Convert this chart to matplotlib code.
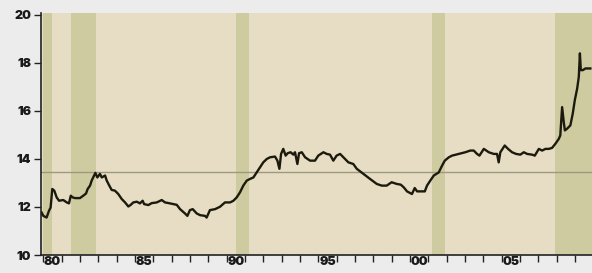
import matplotlib.pyplot as plt
from matplotlib.ticker import FixedLocator, NullFormatter

# data (decimal year, value)
years = [
    1979.91, 1980.00, 1980.18, 1980.31, 1980.40, 1980.49, 1980.60, 1980.73, 1980.86,
    1981.09, 1981.28, 1981.40, 1981.50, 1981.60, 1981.73, 1982.00, 1982.18, 1982.33,
    1982.42, 1982.55, 1982.64, 1982.77, 1982.84, 1982.95, 1983.09, 1983.19, 1983.37,
    1983.46, 1983.58, 1983.73, 1983.91, 1984.09, 1984.28, 1984.46, 1984.64, 1984.77,
    1984.91, 1985.10, 1985.27, 1985.42, 1985.50, 1985.73, 1985.91, 1986.19, 1986.46,
    1986.64, 1986.91, 1987.28, 1987.46, 1987.73, 1987.86, 1988.00, 1988.15, 1988.37,
    1988.55, 1988.82, 1988.91, 1989.09, 1989.37, 1989.64, 1989.91, 1990.19, 1990.37,
    1990.55, 1990.73, 1990.91, 1991.10, 1991.28, 1991.46, 1991.64, 1991.82, 1992.00,
    1992.19, 1992.37, 1992.64, 1992.77, 1992.88, 1992.97, 1993.09, 1993.22, 1993.33,
    1993.49, 1993.64, 1993.73, 1993.86, 1993.95, 1994.10, 1994.28, 1994.55, 1994.82,
    1995.00, 1995.28, 1995.46, 1995.64, 1995.82, 1996.00, 1996.19, 1996.37, 1996.64,
    1996.91, 1997.10, 1997.46, 1997.82, 1998.19, 1998.46, 1998.73, 1999.00, 1999.28,
    1999.50, 1999.66, 1999.84, 2000.11, 2000.26, 2000.39, 2000.57, 2000.81, 2000.93,
    2001.11, 2001.30, 2001.57, 2001.75, 2001.90, 2002.12, 2002.30, 2002.66, 2003.02,
    2003.29, 2003.48, 2003.66, 2003.79, 2004.03, 2004.30, 2004.57, 2004.75, 2004.84,
    2004.93, 2005.17, 2005.35, 2005.57, 2005.79, 2006.02, 2006.21, 2006.39, 2006.66,
    2006.81, 2007.03, 2007.21, 2007.39, 2007.57, 2007.75, 2007.93, 2008.12, 2008.20,
    2008.30, 2008.39, 2008.45, 2008.57, 2008.75, 2008.88, 2008.99, 2009.12, 2009.21,
    2009.27, 2009.32, 2009.43, 2009.57, 2009.84,
]
values = [
    11.77, 11.63, 11.56, 11.84, 11.98, 12.75, 12.68, 12.40, 12.26,
    12.29, 12.19, 12.15, 12.47, 12.40, 12.37, 12.37, 12.47, 12.56,
    12.75, 12.89, 13.10, 13.31, 13.42, 13.23, 13.38, 13.23, 13.31,
    13.10, 12.92, 12.71, 12.68, 12.54, 12.33, 12.19, 12.02, 12.09,
    12.19, 12.22, 12.15, 12.26, 12.12, 12.08, 12.16, 12.19, 12.29,
    12.19, 12.15, 12.09, 11.91, 11.73, 11.63, 11.87, 11.91, 11.73,
    11.66, 11.63, 11.56, 11.87, 11.91, 12.01, 12.19, 12.19, 12.26,
    12.40, 12.61, 12.89, 13.10, 13.17, 13.23, 13.44, 13.65, 13.86,
    14.00, 14.07, 14.10, 13.93, 13.59, 14.21, 14.42, 14.14, 14.24,
    14.28, 14.18, 14.28, 13.79, 14.24, 14.28, 14.07, 13.93, 13.93,
    14.14, 14.28, 14.21, 14.18, 13.93, 14.14, 14.21, 14.07, 13.86,
    13.79, 13.59, 13.38, 13.17, 12.96, 12.89, 12.89, 13.03, 12.96,
    12.93, 12.82, 12.65, 12.54, 12.79, 12.65, 12.65, 12.65, 12.89,
    13.10, 13.31, 13.44, 13.72, 13.93, 14.07, 14.14, 14.21, 14.28,
    14.35, 14.35, 14.21, 14.14, 14.42, 14.28, 14.21, 14.21, 13.86,
    14.28, 14.56, 14.42, 14.28, 14.21, 14.18, 14.28, 14.21, 14.18,
    14.14, 14.42, 14.35, 14.42, 14.42, 14.46, 14.63, 14.84, 14.98,
    16.16, 15.54, 15.19, 15.26, 15.40, 15.89, 16.44, 16.93, 17.42,
    18.40, 17.70, 17.70, 17.77, 17.77,
]
recessions = [(1980.0, 1980.5), (1981.5, 1982.9), (1990.5, 1991.2),
              (2001.2, 2001.9), (2007.9, 2009.95)]
ref_level = 13.45
tick_years = list(range(1980, 2010))
label_years = [1980, 1985, 1990, 1995, 2000, 2005]
label_text = ['80', '85', '90', '95', '00', '05']

fig = plt.figure(figsize=(5.92, 2.73), dpi=100, facecolor='#ececec')
ax = fig.add_axes([41 / 592, 18 / 273, 1 - 41 / 592, 242 / 273])
ax.set_facecolor('#e6ddc4')

for start, end in recessions:
    ax.axvspan(start, end, color='#cfcba0', lw=0, zorder=1)

ax.axhline(ref_level, color='#9d9880', lw=1.0, zorder=2)
ax.plot(years, values, color='#1c1a0c', lw=1.7, zorder=3)

ax.set_xlim(1979.875, 2009.93)
ax.set_ylim(10, 20.08)

# ticks every year, labels centred in the middle of the year
ax.xaxis.set_major_locator(FixedLocator(tick_years))
ax.xaxis.set_major_formatter(NullFormatter())
ax.xaxis.set_minor_locator(FixedLocator([y + 0.5 for y in label_years]))
ax.set_xticklabels(label_text, minor=True)
ax.tick_params(axis='x', which='major', direction='out', length=5, width=1, color='#222222')
ax.tick_params(axis='x', which='minor', length=0, pad=1)

ax.set_yticks([10, 12, 14, 16, 18, 20])
ax.tick_params(axis='y', direction='out', length=5, width=1, color='#222222', pad=2)

for lbl in ax.get_xticklabels(minor=True) + ax.get_yticklabels():
    lbl.set_family(['Inter', 'DejaVu Sans'])
    lbl.set_fontweight(900)
    lbl.set_fontsize(9)
    lbl.set_color('#1a1a1a')

for side in ['top', 'right']:
    ax.spines[side].set_visible(False)
for side in ['left', 'bottom']:
    ax.spines[side].set_color('#222222')
    ax.spines[side].set_linewidth(1.2)

fig.savefig('out.png', dpi=100, facecolor=fig.get_facecolor())
